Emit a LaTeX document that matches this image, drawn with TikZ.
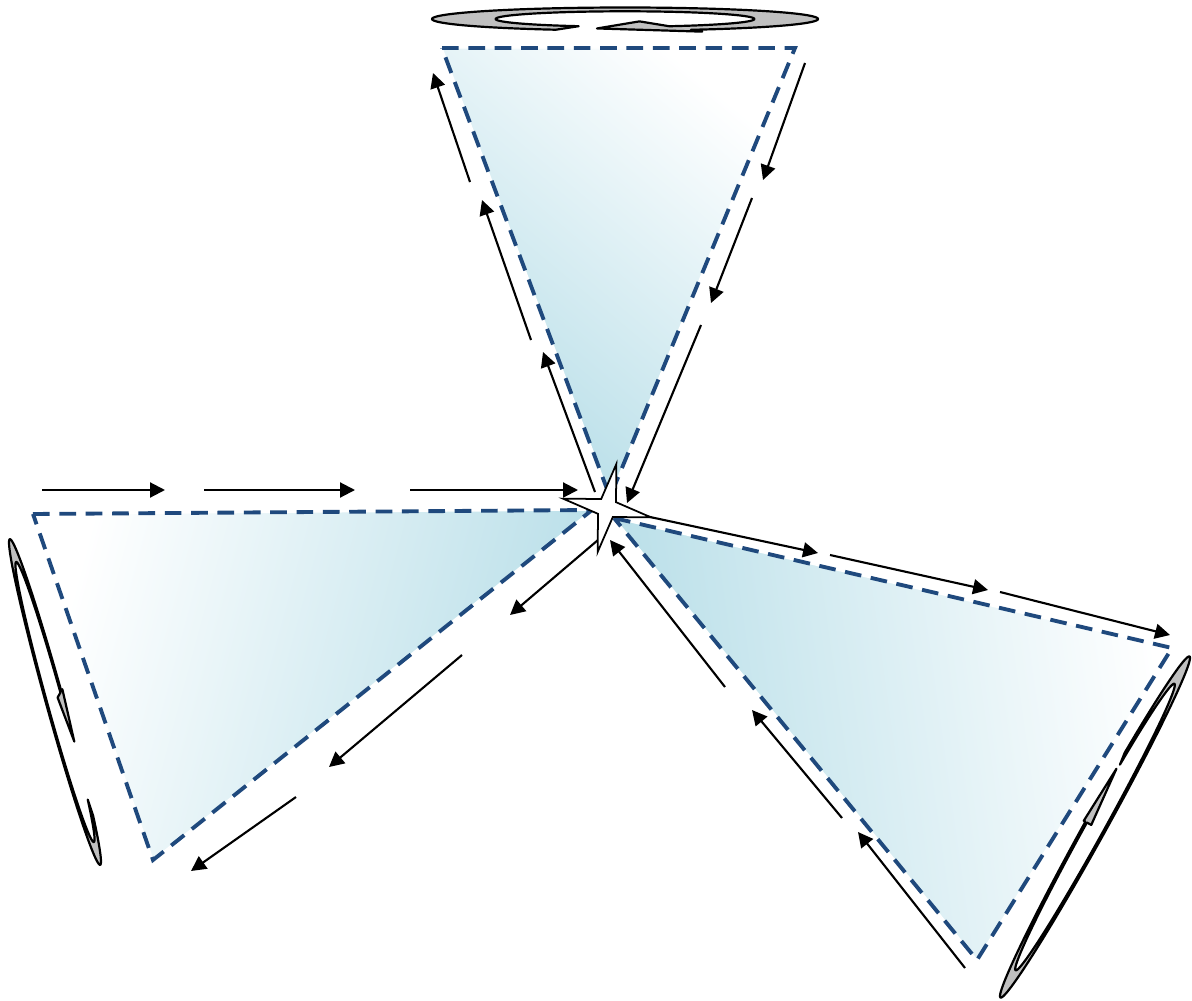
\documentclass[tikz,border=0pt]{standalone}
\usetikzlibrary{arrows.meta,shapes.geometric}
\definecolor{dashBlue}{HTML}{1F497D}
\definecolor{aquaBg}{HTML}{B7DEE8}
\definecolor{ringGrey}{HTML}{C0C0C0}
\tikzset{
  arr/.style={-{Triangle[length=8.5pt,width=8.5pt]}, line width=1.2pt, black},
  blade/.style={draw=dashBlue, line width=2.2pt, dash pattern=on 9.5pt off 5.5pt},
  rim/.style={draw=white, line width=0.8pt},
  ring/.style={fill=ringGrey, draw=black, line width=1.25pt, line join=round},
  hub/.style={star, star points=4, star point ratio=4.2, minimum size=1.8cm,
    inner sep=0pt, draw=black, fill=white, line width=1pt}
}
% #1,#2 centre, #3 turn, #4,#5 half axes, #6 tail, #7 head base, #8 head tip, #9 inner ratio
\newcommand{\spinarrow}[9]{%
  \begin{scope}[shift={(#1,#2)}, rotate=#3, xscale=#4, yscale=#5]
    \filldraw[ring] plot[domain=#6:#7, samples=120] ({cos(\x)},{sin(\x)})
      -- ({1.17*cos(#7)},{1.17*sin(#7)})
      -- ({(1+#9)/2*cos(#8)},{(1+#9)/2*sin(#8)})
      -- ({(#9-0.45)*cos(#7)},{(#9-0.45)*sin(#7)})
      -- plot[domain=#7:#6, samples=120] ({#9*cos(\x)},{#9*sin(\x)}) -- cycle;
  \end{scope}}

\begin{document}
\begin{tikzpicture}[x=0.02cm,y=-0.02cm]
  \useasboundingbox (0,0) rectangle (1192,1000);

  % blade corners
  \coordinate (T1) at (442,48);  \coordinate (T2) at (795,48);  \coordinate (T3) at (610,497);
  \coordinate (L1) at (33,514);  \coordinate (L2) at (592,510); \coordinate (L3) at (153,860);
  \coordinate (R1) at (614,518); \coordinate (R2) at (1172,648); \coordinate (R3) at (977,960);

  % blades
  \shade[top color=white, bottom color=aquaBg, shading angle=-40] (T1) -- (T2) -- (T3) -- cycle;
  \shade[top color=white, bottom color=aquaBg, shading angle=75] (L1) -- (L2) -- (L3) -- cycle;
  \shade[top color=white, bottom color=aquaBg, shading angle=-82] (R1) -- (R2) -- (R3) -- cycle;
  \foreach \a/\b/\c in {T1/T2/T3, L1/L2/L3, R1/R2/R3} {
    \draw[rim] (\a) -- (\b) -- (\c) -- cycle;
    \draw[blade] (\a) -- (\b) -- (\c) -- cycle;
  }

  % flow arrows along the blade edges
  \foreach \sx/\sy/\ex/\ey in {
      595/492/543/352, 531/340/482/200, 470/182/433/73,
      805/63/763/180, 752/198/711/303, 701/325/627/503,
      42/490/165/490, 204/490/355/490, 410/490/578/490,
      598/540/510/615, 462/655/329/767, 296/797/191/871,
      636/514/818/553, 830/555/988/590, 1000/592/1170/635,
      965/968/858/832, 842/818/752/710, 725/687/610/540}
    \draw[arr] (\sx,\sy) -- (\ex,\ey);

  % spin arrows round each blade axis
  \spinarrow{625}{19}{0}{193}{11.5}{111}{430}{460}{0.67}
  \spinarrow{55}{702}{-74.5}{169}{9}{-45}{267}{286}{0.86}
  \spinarrow{1095}{827}{-119}{195}{11}{114}{450}{470}{0.84}

  \node[hub, rotate=-12] (centre) at (607,508) {};
\end{tikzpicture}
\end{document}
